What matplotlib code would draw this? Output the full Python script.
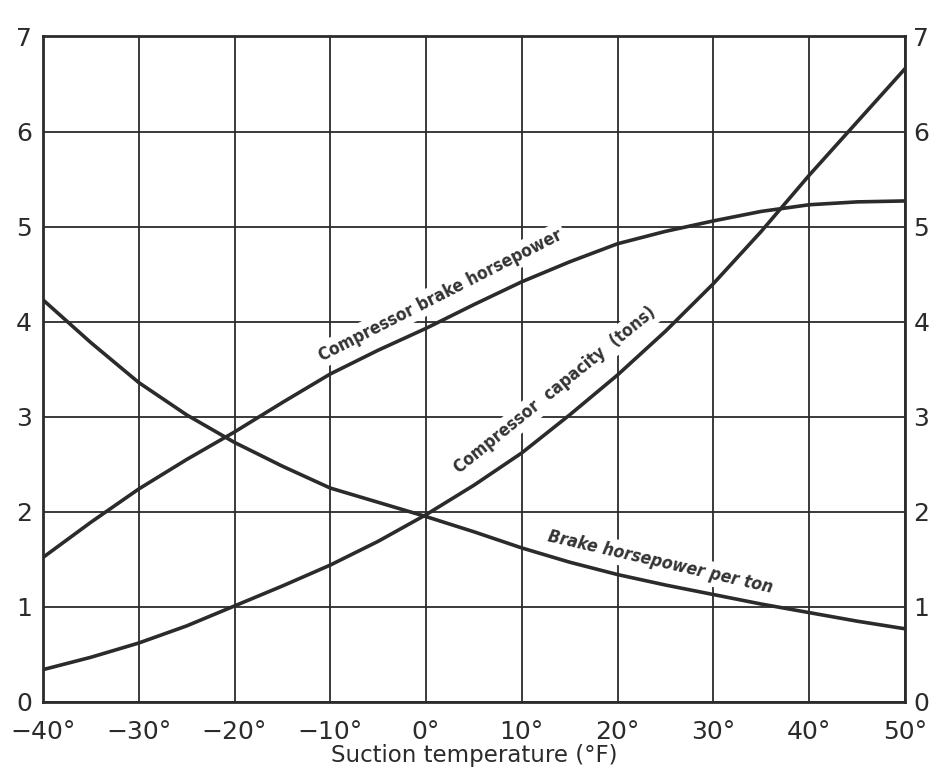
import matplotlib
matplotlib.use("Agg")
import matplotlib.pyplot as plt

# suction temperature (deg F)
temp = [-40, -35, -30, -25, -20, -15, -10, -5, 0, 5, 10, 15, 20, 25, 30, 35, 40, 45, 50]

# compressor brake horsepower
bhp = [1.52, 1.89, 2.24, 2.55, 2.84, 3.15, 3.45, 3.70, 3.93, 4.18, 4.42, 4.63, 4.82,
       4.95, 5.06, 5.16, 5.23, 5.26, 5.27]

# compressor capacity (tons)
capacity = [0.34, 0.47, 0.62, 0.80, 1.01, 1.22, 1.44, 1.69, 1.97, 2.28, 2.62, 3.02, 3.44,
            3.90, 4.40, 4.95, 5.54, 6.10, 6.66]

# brake horsepower per ton
bhp_per_ton = [4.23, 3.78, 3.36, 3.02, 2.73, 2.48, 2.25, 2.10, 1.95, 1.79, 1.62, 1.47, 1.34,
               1.23, 1.13, 1.03, 0.94, 0.85, 0.77]

x_ticks = [-40, -30, -20, -10, 0, 10, 20, 30, 40, 50]
x_ticklabels = ["\u221240\u00b0", "\u221230\u00b0", "\u221220\u00b0", "\u221210\u00b0", "0\u00b0",
                "10\u00b0", "20\u00b0", "30\u00b0", "40\u00b0", "50\u00b0"]
y_ticks = [0, 1, 2, 3, 4, 5, 6, 7]

ink = "#2b2b2b"

fig = plt.figure(figsize=(9.4, 7.76), dpi=100)
ax = fig.add_axes([0.0457, 0.0954, 0.917, 0.8576])

ax.set_xlim(-40, 50)
ax.set_ylim(0, 7)
ax.set_xticks(x_ticks)
ax.set_xticklabels(x_ticklabels)
ax.set_yticks(y_ticks)
ax.tick_params(axis="y", length=0, labelsize=18, colors=ink, pad=8)
ax.tick_params(axis="x", length=0, labelsize=18, colors=ink, pad=13)
ax.grid(True, color=ink, linewidth=1.3, zorder=1)
for sp in ax.spines.values():
    sp.set_linewidth(2.0)
    sp.set_color(ink)

ax2 = ax.twinx()
ax2.set_ylim(0, 7)
ax2.set_yticks(y_ticks)
ax2.tick_params(length=0, labelsize=18, colors=ink, pad=6)
for sp in ax2.spines.values():
    sp.set_visible(False)

lw = 2.6
ax.plot(temp, bhp, color=ink, linewidth=lw, zorder=4)
ax.plot(temp, capacity, color=ink, linewidth=lw, zorder=4)
ax.plot(temp, bhp_per_ton, color=ink, linewidth=lw, zorder=4)

lab_kw = dict(fontsize=12.5, fontweight="bold", color="#333333", ha="center", va="center",
              fontstretch="condensed", zorder=3,
              bbox=dict(facecolor="white", edgecolor="none", pad=2.5))
ax.text(1.5, 4.28, "Compressor brake horsepower", rotation=27, **lab_kw)
ax.text(13.5, 3.28, "Compressor  capacity  (tons)", rotation=39, **lab_kw)
ax.text(24.5, 1.47, "Brake horsepower per ton", rotation=-13, style="italic", **lab_kw)

ax.set_xlabel("Suction temperature (\u00b0F)", fontsize=16.5, color=ink, labelpad=0)

fig.savefig("out.png", dpi=100, facecolor="white")
